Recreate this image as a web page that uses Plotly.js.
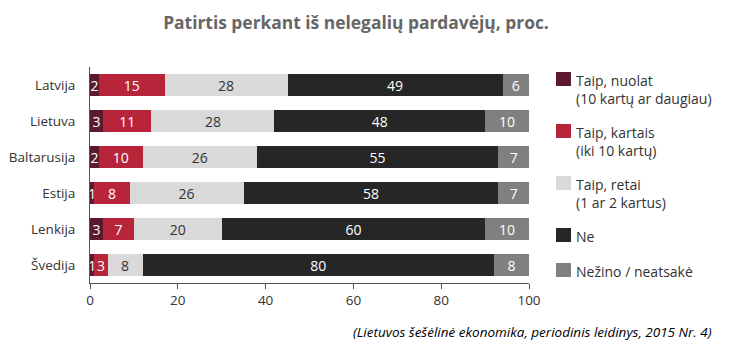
<!DOCTYPE html>
<html>
<head>
<meta charset="utf-8">
<script src="https://cdn.plot.ly/plotly-3.0.1.min.js"></script>
<style>html,body{margin:0;padding:0;background:#fff;}#chart{width:733px;height:351px;}</style>
</head>
<body>
<div id="chart"></div>
<script>
// Data
var categories = ["Latvija", "Lietuva", "Baltarusija", "Estija", "Lenkija", "Švedija"];
var seriesNames = ["Taip, nuolat<br>(10 kartų ar daugiau)", "Taip, kartais<br>(iki 10 kartų)", "Taip, retai<br>(1 ar 2 kartus)", "Ne", "Nežino / neatsakė"];
var nuolat  = [2, 3, 2, 1, 3, 1];
var kartais = [15, 11, 10, 8, 7, 3];
var retai   = [28, 28, 26, 26, 20, 8];
var ne      = [49, 48, 55, 58, 60, 80];
var nezino  = [6, 10, 7, 7, 10, 8];
var xTicks  = [0, 20, 40, 60, 80, 100];
var titleText = "Patirtis perkant iš nelegalių pardavėjų, proc.";
var sourceText = "(Lietuvos šešėlinė ekonomika, periodinis leidinys, 2015 Nr. 4)";

var seriesValues = [nuolat, kartais, retai, ne, nezino];
var colors = ["#5b1a2d", "#b8253a", "#d9d9d9", "#262626", "#808080"];
var textColors = ["#ffffff", "#ffffff", "#333333", "#ffffff", "#ffffff"];

var W = 733, H = 351;
var mL = 90, mR = 204, mT = 67, mB = 68;
var pw = W - mL - mR, ph = H - mT - mB;
function px(x) { return (x - mL) / pw; }
function py(y) { return (H - mB - y) / ph; }

var traces = seriesValues.map(function (vals, i) {
  return {
    type: "bar",
    orientation: "h",
    y: categories,
    x: vals,
    name: seriesNames[i],
    marker: { color: colors[i], line: { width: 0 } },
    text: vals.map(String),
    textposition: "inside",
    insidetextanchor: "middle",
    textangle: 0,
    constraintext: "none",
    textfont: { family: "Open Sans", size: 14, color: textColors[i] },
    hoverinfo: "skip"
  };
});

// custom legend
var legendTop = [72, 124, 176, 228, 263];
var shapes = [];
var annotations = [];
seriesNames.forEach(function (n, i) {
  var t = legendTop[i];
  shapes.push({
    type: "rect", xref: "paper", yref: "paper",
    x0: px(556), x1: px(571), y0: py(t), y1: py(t + 14),
    fillcolor: colors[i], line: { width: 0 }
  });
  annotations.push({
    xref: "paper", yref: "paper",
    x: px(574), y: py(t - 3),
    xanchor: "left", yanchor: "top", align: "left",
    text: n, showarrow: false,
    font: { family: "Open Sans", size: 14, color: "#333333" }
  });
});
annotations.push({
  xref: "paper", yref: "paper",
  x: px(714), y: py(332),
  xanchor: "right", yanchor: "middle",
  text: "<i>" + sourceText + "</i>", showarrow: false,
  font: { family: "Open Sans", size: 13.5, color: "#000000" }
});

var layout = {
  width: W, height: H,
  margin: { l: mL, r: mR, t: mT, b: mB, pad: 0 },
  paper_bgcolor: "#ffffff", plot_bgcolor: "#ffffff",
  barmode: "stack",
  bargap: 0.39,
  showlegend: false,
  title: {
    text: "<b>" + titleText + "</b>",
    x: 356 / W, xref: "container", xanchor: "center",
    y: 1 - 23 / H, yref: "container", yanchor: "middle",
    font: { family: "Open Sans", size: 17.4, color: "#666666" }
  },
  xaxis: {
    range: [0, 100],
    tickvals: xTicks,
    ticktext: xTicks.map(String),
    showgrid: false, zeroline: false,
    showline: true, linecolor: "#555555", linewidth: 1,
    ticks: "outside", ticklen: 5, tickcolor: "#555555",
    tickfont: { family: "Open Sans", size: 13.5, color: "#333333" },
    fixedrange: true
  },
  yaxis: {
    autorange: "reversed",
    showgrid: false, zeroline: false,
    showline: true, linecolor: "#555555", linewidth: 1,
    ticks: "", ticklabelstandoff: 11,
    tickfont: { family: "Open Sans", size: 13.5, color: "#333333" },
    fixedrange: true
  },
  shapes: shapes,
  annotations: annotations,
  font: { family: "Open Sans" }
};

Plotly.newPlot("chart", traces, layout, { displayModeBar: false, staticPlot: true });
</script>
</body>
</html>
